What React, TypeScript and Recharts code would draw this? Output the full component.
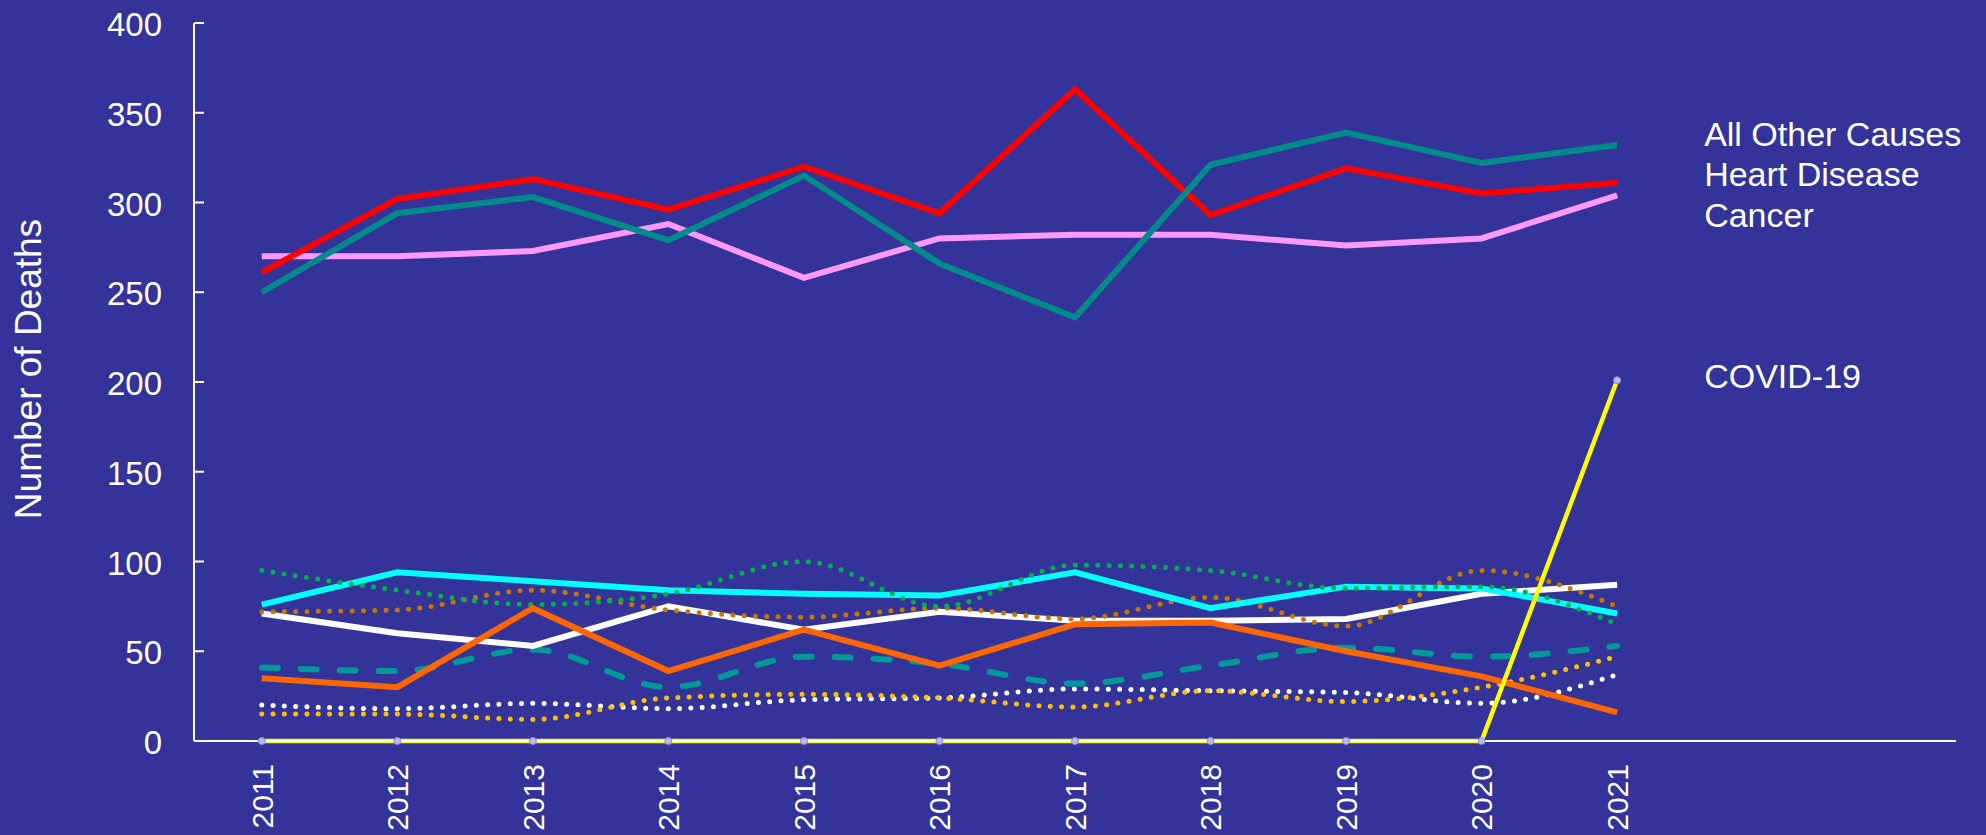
import { CartesianGrid, LabelList, Line, LineChart, XAxis, YAxis } from "recharts";

// 13 slots on the axis: 2011-2021 plus two empty ones where the labels sit
const YEARS = ["2011", "2012", "2013", "2014", "2015", "2016", "2017", "2018", "2019", "2020", "2021", " ", "  "];
const Y_TICKS = [0, 50, 100, 150, 200, 250, 300, 350, 400];

const ALL_OTHER = [250, 294, 303, 279, 315, 266, 236, 321, 339, 322, 332];
const HEART = [261, 302, 313, 296, 320, 294, 363, 293, 319, 305, 311];
const CANCER = [270, 270, 273, 288, 258, 280, 282, 282, 276, 280, 304];
const COVID = [0, 0, 0, 0, 0, 0, 0, 0, 0, 0, 201];
const CYAN_SERIES = [76, 94, 89, 84, 82, 81, 94, 74, 86, 85, 71];
const WHITE_SERIES = [71, 60, 53, 75, 62, 72, 67, 67, 68, 82, 87];
const ORANGE_SERIES = [35, 30, 74, 39, 62, 42, 65, 66, 50, 36, 16];
const TEAL_DASH_SERIES = [41, 39, 51, 30, 47, 43, 32, 42, 52, 47, 53];
const GREEN_DOT_SERIES = [95, 84, 76, 82, 100, 75, 98, 95, 85, 86, 65];
const BROWN_DOT_SERIES = [72, 73, 84, 73, 69, 74, 68, 80, 64, 95, 75];
const WHITE_DOT_SERIES = [20, 18, 21, 18, 23, 24, 29, 28, 27, 21, 37];
const GOLD_DOT_SERIES = [15, 15, 12, 24, 26, 24, 19, 28, 22, 30, 47];

const data = YEARS.map((year, i) => ({
    year,
    allOther: ALL_OTHER[i],
    heart: HEART[i],
    cancer: CANCER[i],
    covid: COVID[i],
    cyan: CYAN_SERIES[i],
    white: WHITE_SERIES[i],
    orange: ORANGE_SERIES[i],
    tealDash: TEAL_DASH_SERIES[i],
    greenDot: GREEN_DOT_SERIES[i],
    brownDot: BROWN_DOT_SERIES[i],
    whiteDot: WHITE_DOT_SERIES[i],
    goldDot: GOLD_DOT_SERIES[i],
}));

const BG = "#333399";
const FONT = "'Liberation Sans', Arial, sans-serif";
const LAST = ALL_OTHER.length - 1;
const DOTTED = "0 11.3";

const endLabel = (text: string, dy: number) => (props: any) => {
    if (props.index !== LAST) return null;
    return (
        <text x={props.x + 87} y={props.y + dy} fill="#ffffff" fontSize={34} fontFamily={FONT}>
            {text}
        </text>
    );
};

const YTick = (props: any) => {
    const { x, y, payload } = props;
    return (
        <g>
            <line x1={x + 32} x2={x + 42} y1={y} y2={y} stroke="#ffffff" strokeWidth={2} />
            <text x={x} y={y} dy={13} textAnchor="end" fill="#ffffff" fontSize={33} fontFamily={FONT}>
                {payload.value}
            </text>
        </g>
    );
};

const XTick = (props: any) => {
    const { x, y, payload } = props;
    return (
        <text
            transform={`translate(${x},${y}) rotate(-90)`}
            dy="0.36em"
            textAnchor="end"
            fill="#ffffff"
            fontSize={30}
            fontFamily={FONT}
        >
            {payload.value.trim()}
        </text>
    );
};

const YTitle = (props: any) => {
    const { viewBox } = props;
    const x = viewBox.x + 27;
    const y = viewBox.y + viewBox.height / 2 - 13;
    return (
        <text
            x={x}
            y={y}
            dy={13.5}
            transform={`rotate(-90, ${x}, ${y})`}
            textAnchor="middle"
            fill="#ffffff"
            fontSize={37}
            fontFamily={FONT}
        >
            Number of Deaths
        </text>
    );
};

export default function App() {
    return (
        <div style={{ position: "absolute", left: 0, top: 0, width: 1986, height: 835, background: BG }}>
            <LineChart width={1986} height={835} data={data} margin={{ top: 23, right: 30, bottom: 0, left: 0 }}>
                <CartesianGrid stroke="none" />
                <XAxis
                    dataKey="year"
                    height={94}
                    padding={{ left: 67.77, right: 67.77 }}
                    axisLine={{ stroke: "#ffffff", strokeWidth: 2 }}
                    tickLine={false}
                    tickSize={0}
                    tickMargin={23}
                    interval={0}
                    tick={<XTick />}
                />
                <YAxis
                    width={194}
                    domain={[0, 400]}
                    ticks={Y_TICKS}
                    axisLine={{ stroke: "#ffffff", strokeWidth: 2 }}
                    tickLine={false}
                    tickSize={0}
                    tickMargin={32}
                    tick={<YTick />}
                    label={<YTitle />}
                />

                <Line dataKey="whiteDot" type="monotone" stroke="#ffffff" strokeWidth={5} strokeDasharray={DOTTED} strokeLinecap="round" dot={false} isAnimationActive={false} />
                <Line dataKey="goldDot" type="monotone" stroke="#ffc000" strokeWidth={5} strokeDasharray={DOTTED} strokeLinecap="round" dot={false} isAnimationActive={false} />
                <Line dataKey="tealDash" type="monotone" stroke="#009999" strokeWidth={6} strokeDasharray="16 23" strokeLinecap="round" dot={false} isAnimationActive={false} />
                <Line dataKey="white" type="linear" stroke="#ffffff" strokeWidth={6} dot={false} isAnimationActive={false} />
                <Line dataKey="brownDot" type="monotone" stroke="#c47900" strokeWidth={5} strokeDasharray={DOTTED} strokeLinecap="round" dot={false} isAnimationActive={false} />
                <Line dataKey="cyan" type="linear" stroke="#00ffff" strokeWidth={6} dot={false} isAnimationActive={false} />
                <Line dataKey="greenDot" type="monotone" stroke="#00b050" strokeWidth={5} strokeDasharray={DOTTED} strokeLinecap="round" dot={false} isAnimationActive={false} />
                <Line dataKey="orange" type="linear" stroke="#ff6600" strokeWidth={6} dot={false} isAnimationActive={false} />
                <Line dataKey="cancer" type="linear" stroke="#ff99ff" strokeWidth={6} dot={false} isAnimationActive={false}>
                    <LabelList content={endLabel("Cancer", 32)} />
                </Line>
                <Line dataKey="heart" type="linear" stroke="#ff0000" strokeWidth={6} dot={false} isAnimationActive={false}>
                    <LabelList content={endLabel("Heart Disease", 3.5)} />
                </Line>
                <Line dataKey="allOther" type="linear" stroke="#008b8b" strokeWidth={6} dot={false} isAnimationActive={false}>
                    <LabelList content={endLabel("All Other Causes", 0.5)} />
                </Line>
                <Line
                    dataKey="covid"
                    type="linear"
                    stroke="#ffff00"
                    strokeWidth={4.5}
                    dot={{ r: 3.5, fill: "#b8b8f4", stroke: "#8c8cdc", strokeWidth: 1 }}
                    isAnimationActive={false}
                >
                    <LabelList content={endLabel("COVID-19", 7.5)} />
                </Line>
            </LineChart>
        </div>
    );
}
